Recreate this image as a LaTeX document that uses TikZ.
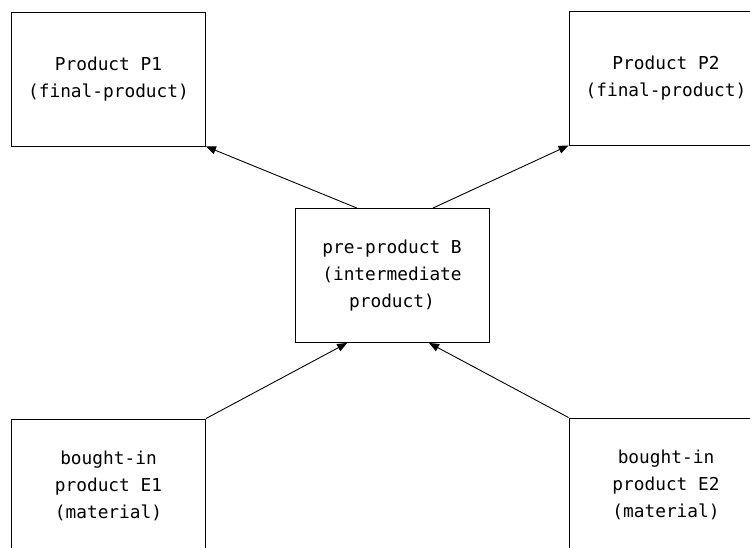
\documentclass[tikz,border=0pt]{standalone}
\usepackage{fontspec}
\setmonofont{DejaVu Sans Mono}
\usetikzlibrary{calc,arrows.meta}
\begin{document}
\begin{tikzpicture}[x=1pt,y=-1pt,
  prodbox/.style={draw=black, line width=0.9pt, inner sep=0pt,
    minimum width=194pt, minimum height=134pt, align=center,
    font=\ttfamily\fontsize{17.8}{27.3}\selectfont},
  flow/.style={line width=0.9pt, -{Triangle[length=10pt,width=8pt]}}]
  \clip (0,0) rectangle (750,547);
  \fill[white] (0,0) rectangle (750,547);

  % products, intermediate product and materials
  \node[prodbox] (P1) at (108.5,79) {Product P1\\(final-product)};
  \node[prodbox] (P2) at (666,78) {Product P2\\(final-product)};
  \node[prodbox] (B) at (392,275.5) {pre-product B\\(intermediate\\product)};
  \node[prodbox] (E1) at (108.5,486) {bought-in\\product E1\\(material)};
  \node[prodbox] (E2) at (666,485) {bought-in\\product E2\\(material)};

  % material flow
  \draw[flow] ($(B.north west)!0.32!(B.north east)$) -- (P1.south east);
  \draw[flow] ($(B.north west)!0.71!(B.north east)$) -- (P2.south west);
  \draw[flow] (E1.north east) -- ($(B.south west)!0.27!(B.south east)$);
  \draw[flow] (E2.north west) -- ($(B.south west)!0.69!(B.south east)$);
\end{tikzpicture}
\end{document}
